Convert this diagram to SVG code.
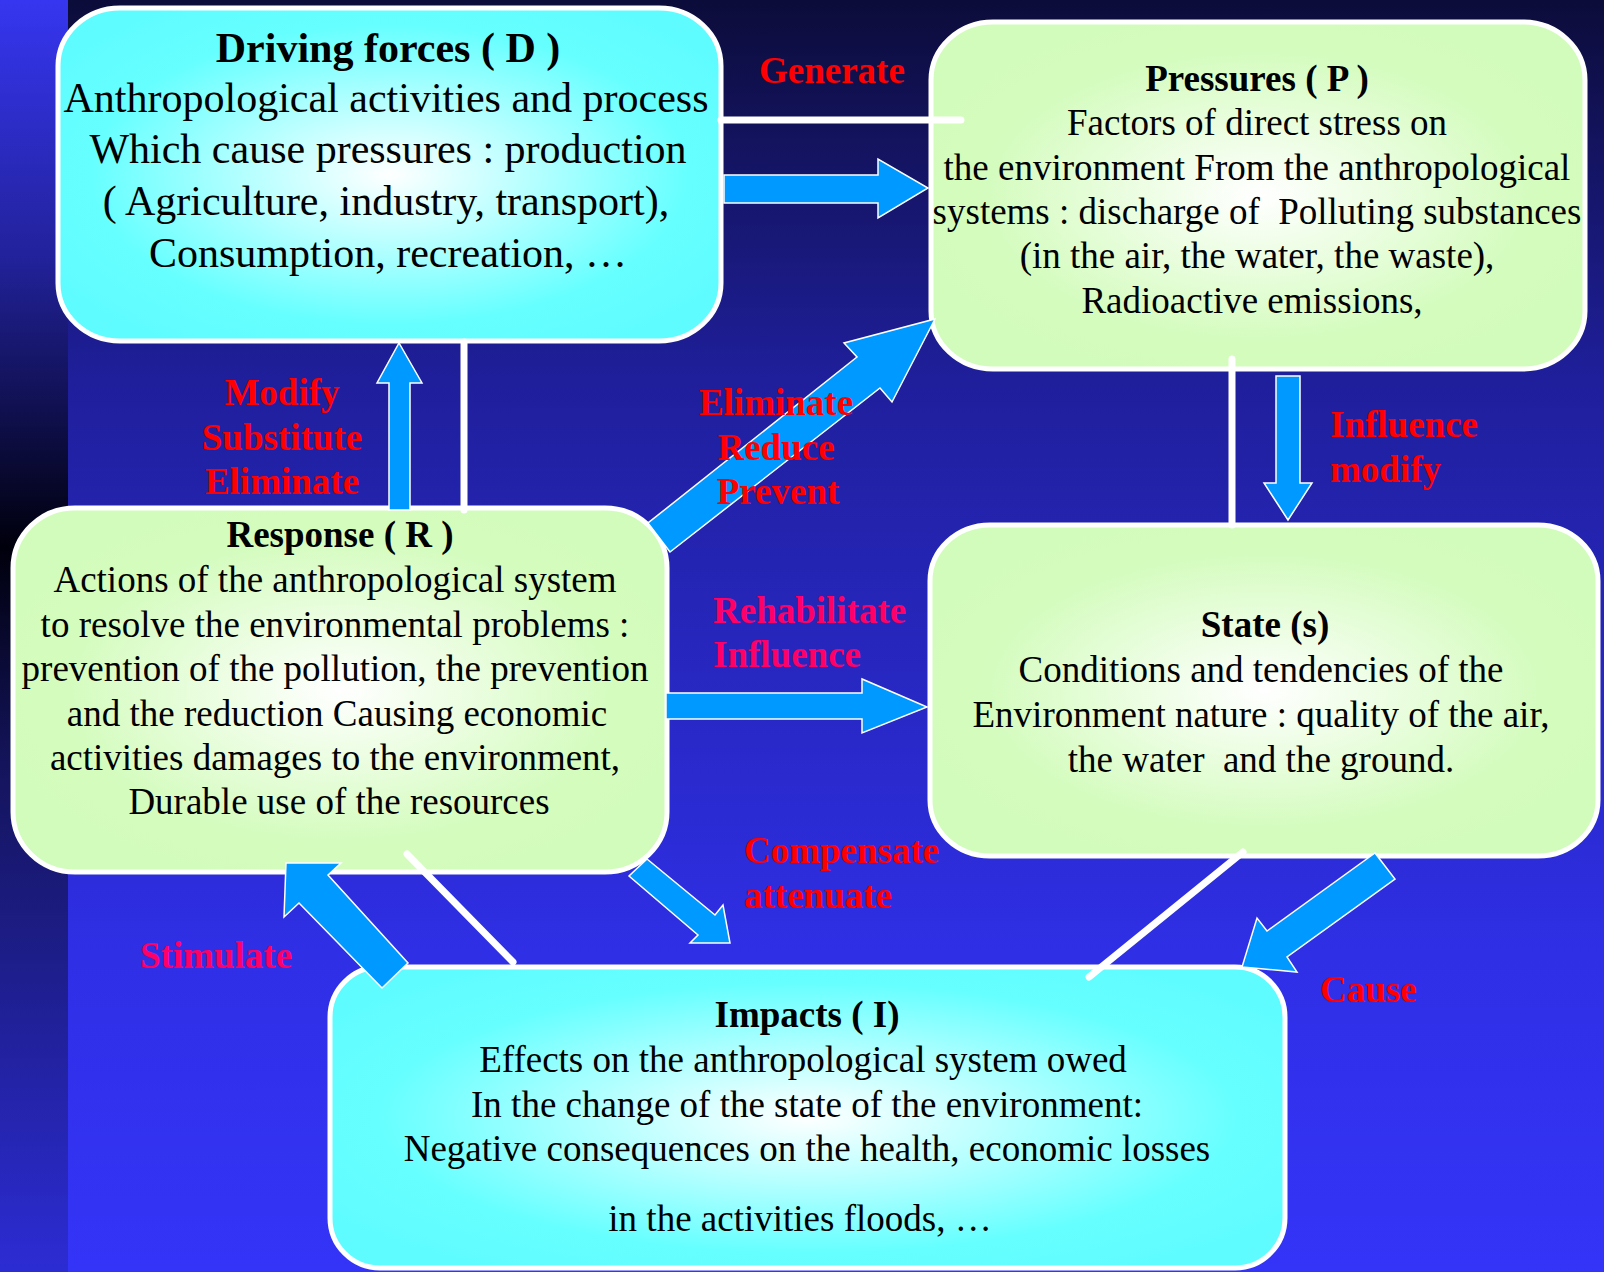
<svg xmlns="http://www.w3.org/2000/svg" width="1604" height="1272" viewBox="0 0 1604 1272">
<defs>
<linearGradient id="bgMain" x1="0" y1="0" x2="0" y2="1">
<stop offset="0" stop-color="#0c0c3a"/>
<stop offset="0.3" stop-color="#1f1f9c"/>
<stop offset="0.5" stop-color="#2626bc"/>
<stop offset="0.75" stop-color="#2f2fe6"/>
<stop offset="1" stop-color="#3434f8"/>
</linearGradient>
<linearGradient id="bgStrip" x1="0" y1="0" x2="0" y2="1">
<stop offset="0" stop-color="#3636f0"/>
<stop offset="0.2" stop-color="#22229c"/>
<stop offset="0.43" stop-color="#00000c"/>
<stop offset="0.6" stop-color="#14145c"/>
<stop offset="1" stop-color="#2c2cd4"/>
</linearGradient>
<radialGradient id="gCyan" cx="0.5" cy="0.5" r="0.6">
<stop offset="0" stop-color="#ffffff"/>
<stop offset="0.75" stop-color="#66ffff"/>
<stop offset="1" stop-color="#5ffcff"/>
</radialGradient>
<radialGradient id="gGreen" cx="0.5" cy="0.5" r="0.6">
<stop offset="0" stop-color="#ffffff"/>
<stop offset="0.7" stop-color="#d4fcbe"/>
<stop offset="1" stop-color="#d2fcbb"/>
</radialGradient>
<style>
.box{stroke:#ffffff;stroke-width:5}
.cy{fill:url(#gCyan)}
.gr{fill:url(#gGreen)}
.t{font-family:"Liberation Serif","Times New Roman",serif;fill:#000000;text-anchor:middle}
.d{font-size:42px}
.s{font-size:37px}
.h{font-weight:bold}
.pre{white-space:pre}
.arrow{fill:#0099ff;stroke:#ffffff;stroke-width:1.5;stroke-linejoin:miter}
.line{stroke:#ffffff;stroke-width:7;stroke-linecap:round;fill:none}
.lbl{font-family:"Liberation Serif","Times New Roman",serif;font-weight:bold;font-size:37px;fill:#ff0000}
.pk{fill:#ff0066}
.mid{text-anchor:middle}
</style>
</defs>
<rect x="0" y="0" width="1604" height="1272" fill="url(#bgMain)"/>
<rect x="0" y="0" width="68" height="1272" fill="url(#bgStrip)"/>

<g id="node-driving">
<rect class="box cy" x="58" y="8" width="663" height="333" rx="62" ry="58"/>
<text class="t d h" x="388" y="62">Driving forces ( D )</text>
<text class="t d" x="386" y="112">Anthropological activities and process</text>
<text class="t d" x="388" y="163">Which cause pressures : production</text>
<text class="t d" x="386" y="215">( Agriculture, industry, transport),</text>
<text class="t d" x="388" y="267">Consumption, recreation, …</text>
</g>

<g id="node-pressures">
<rect class="box gr" x="931" y="22" width="654" height="347" rx="62" ry="58"/>
<text class="t s h" x="1257" y="91">Pressures ( P )</text>
<text class="t s" x="1257" y="135">Factors of direct stress on</text>
<text class="t s" x="1257" y="180">the environment From the anthropological</text>
<text class="t s pre" x="1257" y="224">systems : discharge of  Polluting substances</text>
<text class="t s" x="1257" y="268">(in the air, the water, the waste),</text>
<text class="t s" x="1252" y="313">Radioactive emissions,</text>
</g>

<g id="node-state">
<rect class="box gr" x="930" y="525" width="668" height="331" rx="60" ry="56"/>
<text class="t s h" x="1265" y="637">State (s)</text>
<text class="t s" x="1261" y="682">Conditions and tendencies of the</text>
<text class="t s" x="1261" y="727">Environment nature : quality of the air,</text>
<text class="t s pre" x="1261" y="772">the water  and the ground.</text>
</g>

<g id="node-response">
<rect class="box gr" x="13" y="508" width="654" height="364" rx="62" ry="60"/>
<text class="t s h" x="340" y="547">Response ( R )</text>
<text class="t s" x="335" y="592">Actions of the anthropological system</text>
<text class="t s" x="335" y="637">to resolve the environmental problems :</text>
<text class="t s" x="335" y="681">prevention of the pollution, the prevention</text>
<text class="t s" x="337" y="726">and the reduction Causing economic</text>
<text class="t s" x="335" y="770">activities damages to the environment,</text>
<text class="t s" x="339" y="814">Durable use of the resources</text>
</g>

<g id="node-impacts">
<rect class="box cy" x="330" y="967" width="955" height="301" rx="50" ry="50"/>
<text class="t s h" x="807" y="1027">Impacts ( I)</text>
<text class="t s" x="803" y="1072">Effects on the anthropological system owed</text>
<text class="t s" x="807" y="1117">In the change of the state of the environment:</text>
<text class="t s" x="807" y="1161">Negative consequences on the health, economic losses</text>
<text class="t s" x="800" y="1231">in the activities floods, …</text>
</g>

<g id="connectors">
<line class="line" x1="721" y1="120" x2="961" y2="120"/>
<line class="line" x1="464" y1="342" x2="464" y2="510"/>
<line class="line" x1="1232" y1="359" x2="1232" y2="525"/>
<line class="line" x1="407" y1="854" x2="513" y2="962"/>
<line class="line" x1="1243" y1="852" x2="1089" y2="977"/>
<polygon class="arrow" points="724,175 878,175 878,159 928,188 878,218 878,203 724,203"/>
<polygon class="arrow" points="389,510 389,383 377,383 399,343 422,383 410,383 410,510"/>
<polygon class="arrow" points="935,319 892,402 880,388 670,552 648,523 857,357 844,343"/>
<polygon class="arrow" points="1276,376 1300,376 1300,483 1312,483 1288,520 1264,483 1276,483"/>
<polygon class="arrow" points="666,693 862,693 862,679 927,707 862,733 862,719 666,719"/>
<polygon class="arrow" points="647,859 715,915 723,905 730,943 690,943 698,935 629,876"/>
<polygon class="arrow" points="1375,853 1395,879 1287,957 1297,972 1242,967 1257,918 1267,931"/>
<polygon class="arrow" points="286,863 341,863 328,875 408,963 382,988 299,903 284,917"/>
</g>

<g id="labels">
<text class="lbl" x="759" y="83">Generate</text>
<text class="lbl mid" x="282" y="405">Modify</text>
<text class="lbl mid" x="282" y="450">Substitute</text>
<text class="lbl mid" x="282" y="494">Eliminate</text>
<text class="lbl mid" x="776" y="415">Eliminate</text>
<text class="lbl mid" x="776" y="460">Reduce</text>
<text class="lbl mid" x="778" y="504">Prevent</text>
<text class="lbl" x="1330" y="437">Influence</text>
<text class="lbl" x="1330" y="482">modify</text>
<text class="lbl pk" x="713" y="623">Rehabilitate</text>
<text class="lbl pk" x="713" y="667">Influence</text>
<text class="lbl" x="744" y="863">Compensate</text>
<text class="lbl" x="744" y="908">attenuate</text>
<text class="lbl" x="1320" y="1002">Cause</text>
<text class="lbl pk" x="140" y="968">Stimulate</text>
</g>
</svg>
